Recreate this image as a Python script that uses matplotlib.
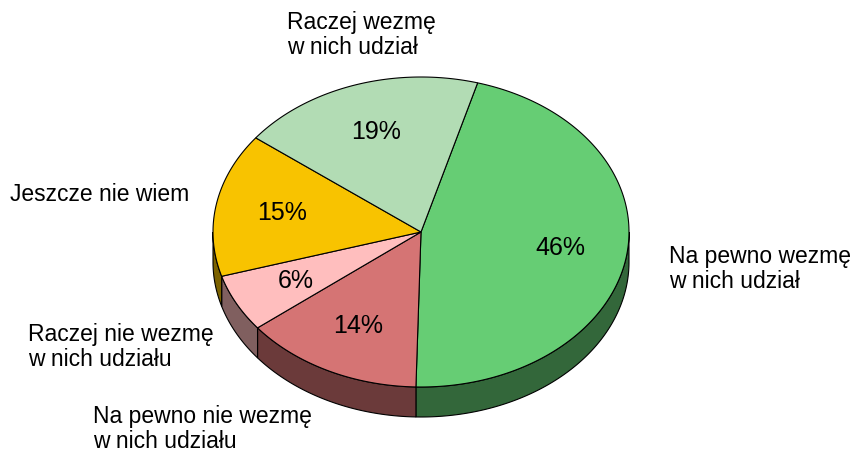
import numpy as np
import matplotlib
matplotlib.use("Agg")
from matplotlib import pyplot as plt
from matplotlib.patches import Polygon

plt.rcParams['font.family'] = ['Liberation Sans', 'DejaVu Sans']

# slices in clockwise order, starting at the top right
labels = ["Na pewno wezmę\nw nich udział",
          "Na pewno nie wezmę\nw nich udziału",
          "Raczej nie wezmę\nw nich udziału",
          "Jeszcze nie wiem",
          "Raczej wezmę\nw nich udział"]
values = [46, 14, 6, 15, 19]
colors = ["#66cd74", "#d57474", "#ffbebe", "#f8c300", "#b2dcb4"]

# outer label placement (pixels, left / last baseline)
label_pos = [(669, 288), (93, 448), (28, 366), (10, 201), (287, 54)]

cx, cy = 421, 232
rx, ry = 208, 155
depth = 30
start = 74.2


def arc(a1, a2, n=200):
    a = np.radians(np.linspace(a1, a2, n))
    return cx + rx * np.cos(a), cy - ry * np.sin(a)


fig = plt.figure(figsize=(8.57, 4.54), dpi=100)
ax = fig.add_axes([0, 0, 1, 1])
ax.set_xlim(0, 857)
ax.set_ylim(454, 0)
ax.axis("off")

fracs = np.array(values) / np.sum(values) * 360
ends = start - np.cumsum(fracs)
starts = ends + fracs

# side walls (front half only: angles between 180 and 360)
for a_hi, a_lo, c in zip(starts, ends, colors):
    lo = a_lo % 360
    hi = lo + (a_hi - a_lo)
    segs = []
    for k in (0, 360):
        s1, s2 = max(lo, 180 + k), min(hi, 360 + k)
        if s2 > s1:
            segs.append((s1, s2))
    dark = tuple(0.5 * v for v in matplotlib.colors.to_rgb(c))
    for s1, s2 in segs:
        x, y = arc(s1, s2)
        pts = np.vstack([np.column_stack([x, y]),
                         np.column_stack([x[::-1], y[::-1] + depth])])
        ax.add_patch(Polygon(pts, closed=True, facecolor=dark,
                             edgecolor="black", linewidth=0.8))

# top face
for a_hi, a_lo, c in zip(starts, ends, colors):
    x, y = arc(a_lo, a_hi)
    pts = np.vstack([[cx, cy], np.column_stack([x, y])])
    ax.add_patch(Polygon(pts, closed=True, facecolor=c,
                         edgecolor="black", linewidth=0.8))

# percentage labels
for a_hi, a_lo, v in zip(starts, ends, values):
    mid = np.radians((a_hi + a_lo) / 2)
    ax.text(cx + 0.68 * rx * np.cos(mid), cy - 0.68 * ry * np.sin(mid),
            f"{v}%", fontsize=18, ha="center", va="center")

for lab, (lx, ly) in zip(labels, label_pos):
    ax.text(lx, ly, lab, fontsize=16.5, ha="left", va="baseline",
            linespacing=1.1)

fig.savefig("out.png", dpi=100)
